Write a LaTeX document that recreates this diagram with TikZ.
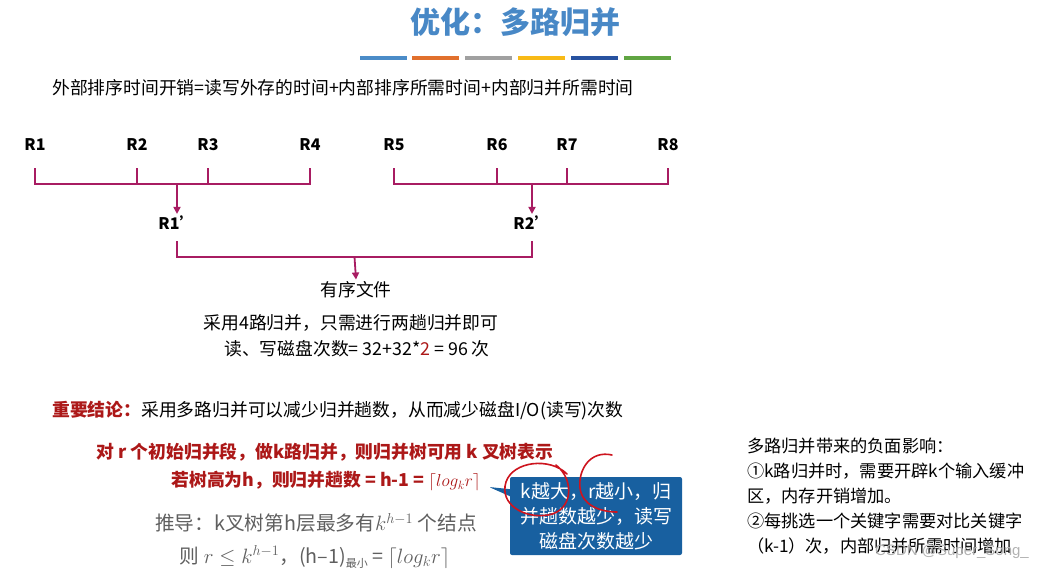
\documentclass[tikz,border=0pt]{standalone}
\usepackage{fontspec}
\setmainfont{Noto Sans CJK SC}
\newfontfamily\wmfont{Liberation Sans}
\usetikzlibrary{arrows.meta,positioning,calc,shapes.callouts}
\definecolor{titleblue}{RGB}{72,136,198}
\definecolor{brkred}{RGB}{168,28,98}
\definecolor{keyred}{RGB}{172,24,24}
\definecolor{boxblue}{RGB}{24,96,160}
\definecolor{penred}{RGB}{205,20,30}
\definecolor{derivgray}{RGB}{95,95,95}
\definecolor{barA}{RGB}{75,140,200}
\definecolor{barB}{RGB}{225,112,45}
\definecolor{barC}{RGB}{160,160,160}
\definecolor{barD}{RGB}{248,186,22}
\definecolor{barE}{RGB}{40,82,160}
\definecolor{barF}{RGB}{96,165,66}
\tikzset{
 ttl/.style={font=\fontsize{30}{30}\selectfont\bfseries,text=titleblue},
 body/.style={font=\fontsize{17.8}{21}\selectfont,inner sep=2pt},
 rlab/.style={font=\fontsize{16}{16}\selectfont\bfseries,inner sep=2pt},
 keyline/.style={body,font=\fontsize{17.8}{21}\selectfont\bfseries,text=keyred},
 deriv/.style={font=\fontsize{19.7}{23}\selectfont,text=derivgray,inner sep=2pt},
 brk/.style={draw=brkred,line width=1.8pt},
 arr/.style={brk,-{Triangle[length=7pt,width=7pt]}},
 pen/.style={draw=penred,line width=1.6pt,line cap=round},
 tip/.style={rectangle callout,fill=boxblue,rounded corners=2pt,text=white,align=center,
  font=\fontsize{19}{25}\selectfont,minimum width=172pt,minimum height=78pt,inner sep=2pt}}
\begin{document}
\begin{tikzpicture}[x=1pt,y=-1pt]
\useasboundingbox (0,0) rectangle (1062,570);
\node[ttl] (title) at (515,22) {优化：多路归并};
\foreach \c/\xa in {barA/360,barB/412,barC/465,barD/518,barE/571,barF/624}
  \draw[\c,line width=4pt] (\xa,58) -- ++(47,0);
\node[body,anchor=west] (cost) at (50,88) {外部排序时间开销=读写外存的时间+内部排序所需时间+内部归并所需时间};
% runs and merge brackets
\coordinate (tick) at (0,168);
\coordinate (base) at (0,184);
\foreach \n/\xr in {1/35,2/137,3/208,4/310,5/394,6/497,7/567,8/668}{
  \node[rlab] (r\n) at (\xr,145) {R\n};
  \draw[brk] (r\n |- tick) -- (r\n |- base);
}
\draw[brk] ([xshift=-0.9pt]r1 |- base) -- ([xshift=0.9pt]r4 |- base);
\draw[brk] ([xshift=-0.9pt]r5 |- base) -- ([xshift=0.9pt]r8 |- base);
\node[rlab] (m1) at (177,223) {R1’};
\node[rlab] (m2) at (532,223) {R2’};
\draw[arr] (m1 |- base) -- (m1.north);
\draw[arr] (m2 |- base) -- (m2.north);
\coordinate (tick2) at (0,241);
\coordinate (base2) at (0,257);
\draw[brk] (m1 |- tick2) -- (m1 |- base2) -- (m2 |- base2) -- (m2 |- tick2);
\node[body] (sorted) at (356,290) {有序文件};
\draw[arr] ($(m1 |- base2)!0.5!(m2 |- base2)$) -- (sorted.north);
\node[body] (fourway) at (351,323) {采用4路归并，只需进行两趟归并即可};
\node[body] (count) at (357,349) {读、写磁盘次数= 32+32*{\color{keyred}2} = 96 次};
\node[body,anchor=west] (concl) at (50,411) {{\bfseries\color{keyred}重要结论：}采用多路归并可以减少归并趟数，从而减少磁盘I/O(读写)次数};
\node[keyline] (ktree) at (325,452) {对 r 个初始归并段，做k路归并，则归并树可用 k 叉树表示};
\node[keyline] (height) at (326,481) {若树高为h，则归并趟数 = h-1 = $\lceil log_{k}r\rceil$};
\node[deriv] (derive1) at (316,523) {推导：k叉树第h层最多有$k^{h-1}$ 个结点};
\node[deriv] (derive2) at (315,557) {则 $r\le k^{h-1}$，(h–1)\raisebox{-4pt}{\fontsize{11}{11}\selectfont 最小} = $\lceil log_{k}r\rceil$};
\node[tip,callout absolute pointer={(489,487)}] (bluetip) at (596,516) {k越大，r越小，归\\并趟数越少，读写\\磁盘次数越少};
% pen marks
\draw[pen] (567,474) .. controls (550,457) and (513,461) .. (506,482)
  .. controls (499,504) and (524,519) .. (548,515)
  .. controls (573,511) and (575,480) .. (556,465);
\draw[pen] (612,455) .. controls (590,450) and (578,470) .. (580,488)
  .. controls (582,505) and (600,512) .. (617,512);
\node[body,anchor=north west,align=left,font=\fontsize{17.2}{25}\selectfont] (neg) at (745,436)
 {多路归并带来的负面影响：\\①k路归并时，需要开辟k个输入缓冲\\区，内存开销增加。\\②每挑选一个关键字需要对比关键字\\（k-1）次，内部归并所需时间增加};
\node[font=\wmfont\fontsize{15}{15}\selectfont,text=black!30] (mark) at (952,552) {CSDN @Super\_Song\_};
\end{tikzpicture}
\end{document}
